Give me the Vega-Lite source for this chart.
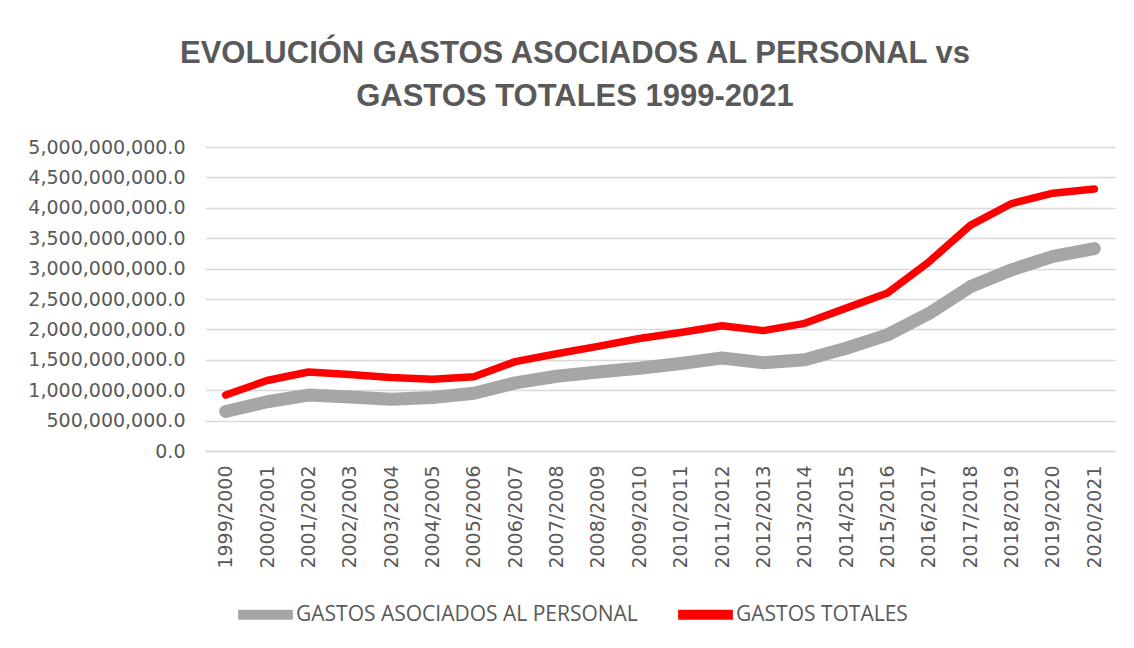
{
  "$schema": "https://vega.github.io/schema/vega-lite/v6.json",
  "width": 910,
  "height": 304,
  "autosize": "none",
  "padding": {"left": 205, "top": 147, "right": 19, "bottom": 197},
  "background": "white",
  "title": {
    "text": ["EVOLUCIÓN GASTOS ASOCIADOS AL PERSONAL vs", "GASTOS TOTALES 1999-2021"],
    "font": "Liberation Sans",
    "fontSize": 31,
    "fontWeight": "bold",
    "color": "#595959",
    "lineHeight": 43,
    "anchor": "middle",
    "dx": -85,
    "offset": 25
  },
  "data": {
    "values": [
      {"periodo": "1999/2000", "serie": "GASTOS ASOCIADOS AL PERSONAL", "valor": 650000000},
      {"periodo": "2000/2001", "serie": "GASTOS ASOCIADOS AL PERSONAL", "valor": 810000000},
      {"periodo": "2001/2002", "serie": "GASTOS ASOCIADOS AL PERSONAL", "valor": 920000000},
      {"periodo": "2002/2003", "serie": "GASTOS ASOCIADOS AL PERSONAL", "valor": 890000000},
      {"periodo": "2003/2004", "serie": "GASTOS ASOCIADOS AL PERSONAL", "valor": 850000000},
      {"periodo": "2004/2005", "serie": "GASTOS ASOCIADOS AL PERSONAL", "valor": 880000000},
      {"periodo": "2005/2006", "serie": "GASTOS ASOCIADOS AL PERSONAL", "valor": 950000000},
      {"periodo": "2006/2007", "serie": "GASTOS ASOCIADOS AL PERSONAL", "valor": 1120000000},
      {"periodo": "2007/2008", "serie": "GASTOS ASOCIADOS AL PERSONAL", "valor": 1230000000},
      {"periodo": "2008/2009", "serie": "GASTOS ASOCIADOS AL PERSONAL", "valor": 1300000000},
      {"periodo": "2009/2010", "serie": "GASTOS ASOCIADOS AL PERSONAL", "valor": 1360000000},
      {"periodo": "2010/2011", "serie": "GASTOS ASOCIADOS AL PERSONAL", "valor": 1440000000},
      {"periodo": "2011/2012", "serie": "GASTOS ASOCIADOS AL PERSONAL", "valor": 1530000000},
      {"periodo": "2012/2013", "serie": "GASTOS ASOCIADOS AL PERSONAL", "valor": 1450000000},
      {"periodo": "2013/2014", "serie": "GASTOS ASOCIADOS AL PERSONAL", "valor": 1500000000},
      {"periodo": "2014/2015", "serie": "GASTOS ASOCIADOS AL PERSONAL", "valor": 1690000000},
      {"periodo": "2015/2016", "serie": "GASTOS ASOCIADOS AL PERSONAL", "valor": 1910000000},
      {"periodo": "2016/2017", "serie": "GASTOS ASOCIADOS AL PERSONAL", "valor": 2260000000},
      {"periodo": "2017/2018", "serie": "GASTOS ASOCIADOS AL PERSONAL", "valor": 2700000000},
      {"periodo": "2018/2019", "serie": "GASTOS ASOCIADOS AL PERSONAL", "valor": 2980000000},
      {"periodo": "2019/2020", "serie": "GASTOS ASOCIADOS AL PERSONAL", "valor": 3200000000},
      {"periodo": "2020/2021", "serie": "GASTOS ASOCIADOS AL PERSONAL", "valor": 3330000000},
      {"periodo": "1999/2000", "serie": "GASTOS TOTALES", "valor": 920000000},
      {"periodo": "2000/2001", "serie": "GASTOS TOTALES", "valor": 1160000000},
      {"periodo": "2001/2002", "serie": "GASTOS TOTALES", "valor": 1300000000},
      {"periodo": "2002/2003", "serie": "GASTOS TOTALES", "valor": 1260000000},
      {"periodo": "2003/2004", "serie": "GASTOS TOTALES", "valor": 1210000000},
      {"periodo": "2004/2005", "serie": "GASTOS TOTALES", "valor": 1180000000},
      {"periodo": "2005/2006", "serie": "GASTOS TOTALES", "valor": 1220000000},
      {"periodo": "2006/2007", "serie": "GASTOS TOTALES", "valor": 1470000000},
      {"periodo": "2007/2008", "serie": "GASTOS TOTALES", "valor": 1600000000},
      {"periodo": "2008/2009", "serie": "GASTOS TOTALES", "valor": 1720000000},
      {"periodo": "2009/2010", "serie": "GASTOS TOTALES", "valor": 1850000000},
      {"periodo": "2010/2011", "serie": "GASTOS TOTALES", "valor": 1950000000},
      {"periodo": "2011/2012", "serie": "GASTOS TOTALES", "valor": 2060000000},
      {"periodo": "2012/2013", "serie": "GASTOS TOTALES", "valor": 1980000000},
      {"periodo": "2013/2014", "serie": "GASTOS TOTALES", "valor": 2100000000},
      {"periodo": "2014/2015", "serie": "GASTOS TOTALES", "valor": 2350000000},
      {"periodo": "2015/2016", "serie": "GASTOS TOTALES", "valor": 2600000000},
      {"periodo": "2016/2017", "serie": "GASTOS TOTALES", "valor": 3110000000},
      {"periodo": "2017/2018", "serie": "GASTOS TOTALES", "valor": 3710000000},
      {"periodo": "2018/2019", "serie": "GASTOS TOTALES", "valor": 4070000000},
      {"periodo": "2019/2020", "serie": "GASTOS TOTALES", "valor": 4240000000},
      {"periodo": "2020/2021", "serie": "GASTOS TOTALES", "valor": 4310000000}
    ]
  },
  "encoding": {
    "x": {
      "field": "periodo",
      "type": "ordinal",
      "sort": null,
      "scale": {"padding": 0.5},
      "axis": {
        "title": null,
        "labelAngle": -90,
        "labelPadding": 14,
        "labelFontSize": 19,
        "labelFont": "DejaVu Sans",
        "labelColor": "#595959",
        "ticks": false,
        "domainColor": "#d9d9d9",
        "domainWidth": 1.5,
        "grid": false
      }
    },
    "y": {
      "field": "valor",
      "type": "quantitative",
      "scale": {"domain": [0, 5000000000], "nice": false},
      "axis": {
        "title": null,
        "values": [0, 500000000, 1000000000, 1500000000, 2000000000, 2500000000, 3000000000, 3500000000, 4000000000, 4500000000, 5000000000],
        "format": ",.1f",
        "labelFontSize": 19,
        "labelFont": "DejaVu Sans",
        "labelColor": "#595959",
        "labelPadding": 20,
        "ticks": false,
        "domain": false,
        "gridColor": "#d9d9d9",
        "gridWidth": 1.5
      }
    },
    "color": {
      "field": "serie",
      "type": "nominal",
      "scale": {"domain": ["GASTOS ASOCIADOS AL PERSONAL", "GASTOS TOTALES"], "range": ["#a6a6a6", "#ff0000"]},
      "legend": {
        "title": null,
        "orient": "none",
        "direction": "horizontal",
        "legendX": 28,
        "legendY": 435,
        "symbolType": "stroke",
        "symbolSize": 3000,
        "symbolStrokeWidth": 10,
        "labelFontSize": 21,
        "labelFont": "Open Sans",
        "labelColor": "#595959",
        "labelOffset": -2,
        "columnPadding": 20,
        "labelLimit": 500
      }
    }
  },
  "layer": [
    {
      "transform": [{"filter": "datum.serie === 'GASTOS ASOCIADOS AL PERSONAL'"}],
      "mark": {"type": "line", "strokeCap": "round", "strokeJoin": "round", "strokeWidth": 13}
    },
    {
      "transform": [{"filter": "datum.serie === 'GASTOS TOTALES'"}],
      "mark": {"type": "line", "strokeCap": "round", "strokeJoin": "round", "strokeWidth": 7.5}
    }
  ],
  "config": {"view": {"stroke": null}}
}
